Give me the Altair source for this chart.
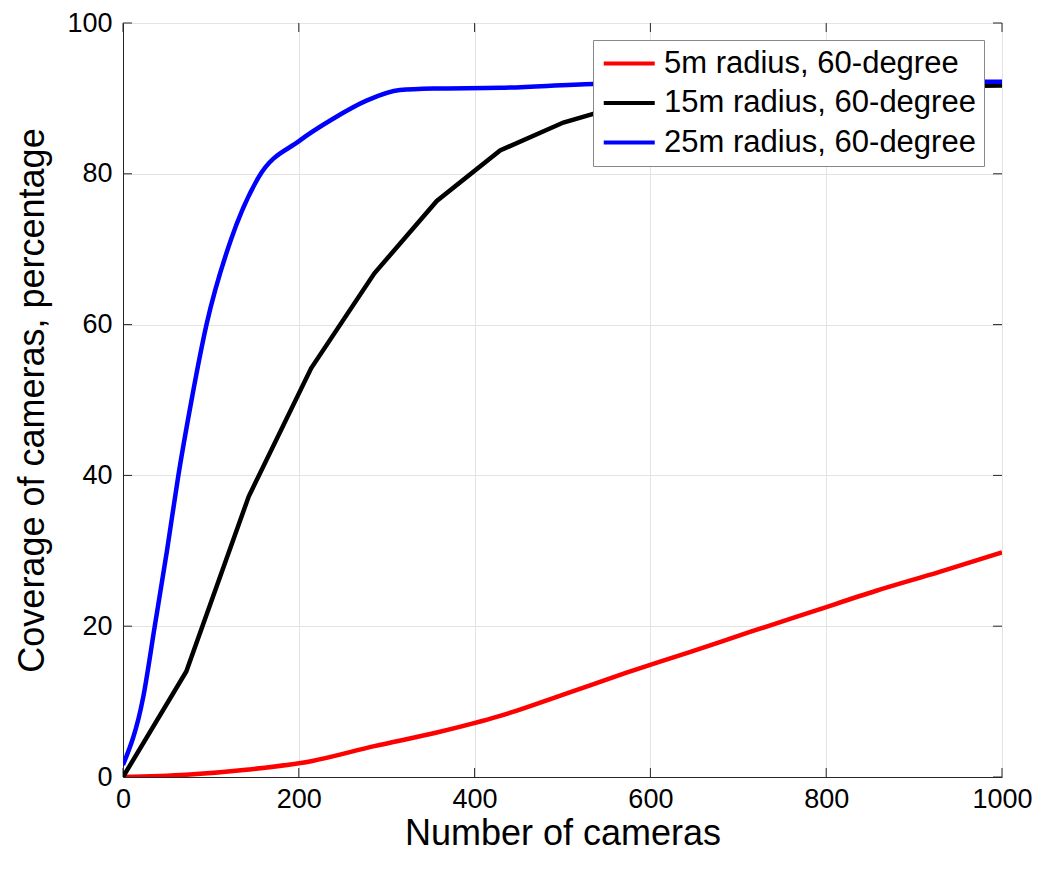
import altair as alt
import pandas as pd

series_names = ["5m radius, 60-degree", "15m radius, 60-degree", "25m radius, 60-degree"]
series_colors = ["#ff0000", "#000000", "#0000ff"]

red_x = [0, 72, 143, 214, 286, 357, 429, 500, 572, 643, 715, 786, 857, 929, 1000]
red_y = [0.0, 0.3, 1.0, 2.1, 4.1, 5.9, 8.1, 10.9, 13.8, 16.5, 19.3, 22.0, 24.7, 27.2, 29.8]

black_x = [0, 72, 143, 214, 286, 357, 429, 501, 572, 643, 715, 786, 857, 929, 1000]
black_y = [0.0, 14.0, 37.2, 54.2, 66.8, 76.4, 83.1, 86.8, 89.2, 90.5, 91.1, 91.4, 91.5, 91.6, 91.7]

blue_x = [0, 23, 36, 50, 63, 78, 95, 122, 154, 201, 239, 277, 315, 353, 429, 535, 600, 700, 800, 900, 1000]
blue_y = [1.6, 10.6, 19.9, 30.0, 40.0, 50.0, 60.0, 71.0, 79.5, 84.4, 87.3, 89.7, 91.1, 91.3, 91.4, 91.9, 92.0, 92.1, 92.1, 92.2, 92.2]

x_ticks = [0, 200, 400, 600, 800, 1000]
y_ticks = [0, 20, 40, 60, 80, 100]

W, H = 879, 754
FONT = "Liberation Sans"
AX = "#262626"

rows = []
for name, xs, ys in [(series_names[0], red_x, red_y),
                     (series_names[1], black_x, black_y),
                     (series_names[2], blue_x, blue_y)]:
    for xv, yv in zip(xs, ys):
        rows.append({"series": name, "cameras": xv, "coverage": yv})
df = pd.DataFrame(rows)

xscale = alt.Scale(domain=[0, 1000], nice=False, zero=False)
yscale = alt.Scale(domain=[0, 100], nice=False, zero=False)

color = alt.Color(
    "series:N",
    scale=alt.Scale(domain=series_names, range=series_colors),
    legend=alt.Legend(
        title=None, orient="none", legendX=470, legendY=17,
        symbolType="M-1,0H3", symbolSize=650, symbolStrokeWidth=4,
        symbolFillColor="transparent",
        labelFontSize=31, labelFont=FONT, labelColor="black", labelLimit=500,
        labelOffset=32, padding=8, rowPadding=7.5,
        fillColor="white", strokeColor="#888888",
    ),
)

xenc = alt.X("cameras:Q", scale=xscale,
             axis=alt.Axis(values=x_ticks, format="d", title="Number of cameras", grid=True,
                           gridColor="#e3e3e3", ticks=False, domainColor=AX,
                           labelFontSize=27, labelFont=FONT, labelColor="black",
                           labelPadding=9, titleFontSize=36, titleFont=FONT,
                           titleFontWeight="normal", titleColor="black", titlePadding=4,
                           labelFlush=False))
yenc = alt.Y("coverage:Q", scale=yscale,
             axis=alt.Axis(values=y_ticks, format="d", title="Coverage of cameras, percentage", grid=True,
                           gridColor="#e3e3e3", ticks=False, domainColor=AX,
                           labelFontSize=27, labelFont=FONT, labelColor="black",
                           labelPadding=11, titleFontSize=36, titleFont=FONT,
                           titleFontWeight="normal", titleColor="black", titlePadding=15,
                           labelFlush=False))

base = alt.Chart(df)
lines = []
for name, interp in zip(series_names, ["monotone", "linear", "monotone"]):
    lines.append(
        base.transform_filter(alt.datum.series == name)
        .mark_line(strokeWidth=4.5, interpolate=interp, clip=True)
        .encode(x=xenc, y=yenc, color=color, order="cameras:Q")
    )

xt = pd.DataFrame({"t": x_ticks})
yt = pd.DataFrame({"t": y_ticks})
tl = 9
tick_bottom = alt.Chart(xt).mark_rule(color=AX, strokeWidth=1).encode(
    x=alt.X("t:Q", scale=xscale), y=alt.value(H), y2=alt.value(H - tl))
tick_top = alt.Chart(xt).mark_rule(color=AX, strokeWidth=1).encode(
    x=alt.X("t:Q", scale=xscale), y=alt.value(0), y2=alt.value(tl))
tick_left = alt.Chart(yt).mark_rule(color=AX, strokeWidth=1).encode(
    y=alt.Y("t:Q", scale=yscale), x=alt.value(0), x2=alt.value(tl))
tick_right = alt.Chart(yt).mark_rule(color=AX, strokeWidth=1).encode(
    y=alt.Y("t:Q", scale=yscale), x=alt.value(W), x2=alt.value(W - tl))

chart = alt.layer(tick_bottom, tick_top, tick_left, tick_right, *lines).properties(
    width=W, height=H,
    autosize=alt.AutoSizeParams(type="none"),
    padding={"left": 115, "top": 15, "right": 33, "bottom": 80},
).configure_view(stroke=AX, strokeWidth=1).configure(background="white")

chart.save("out.html", embed_options={"renderer": "svg", "actions": False})
